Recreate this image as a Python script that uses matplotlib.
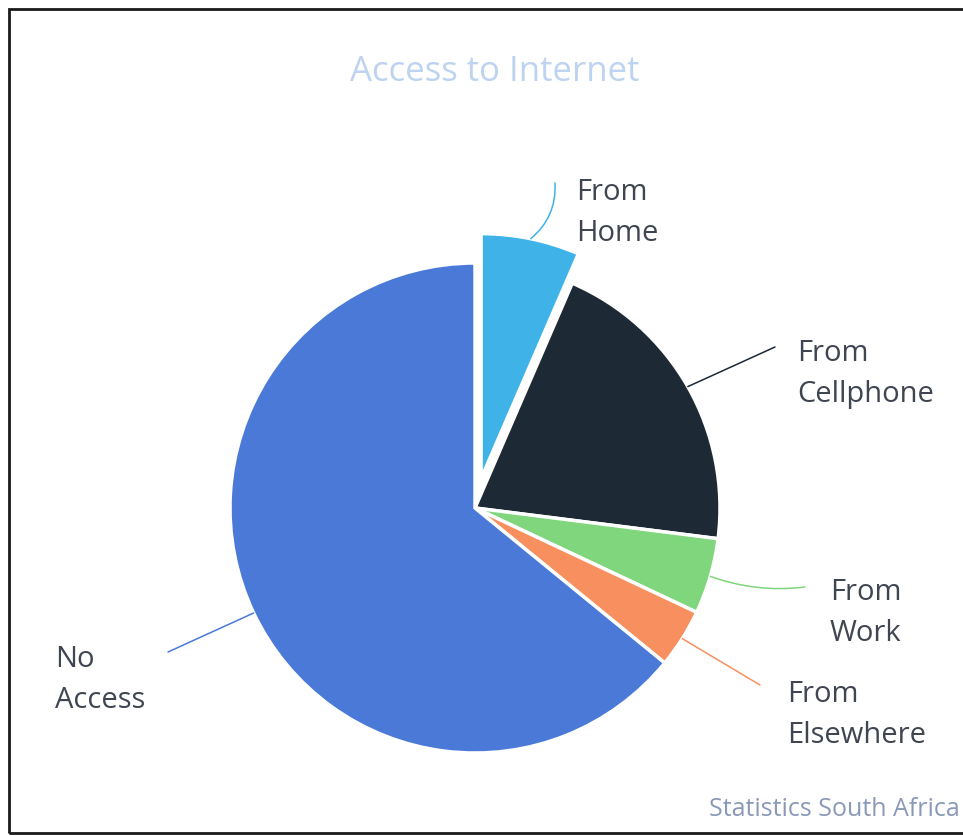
import numpy as np
import matplotlib
matplotlib.use('Agg')
import matplotlib.pyplot as plt
from matplotlib.patches import Rectangle

plt.rcParams['font.family'] = ['Open Sans', 'DejaVu Sans']

# Share of households by type of internet access (%)
categories = ["From\nHome", "From\nCellphone", "From\nWork", "From\nElsewhere", "No\nAccess"]
shares = [6.5, 20.5, 5.0, 3.9, 64.1]
colors = ["#3fb3e8", "#1d2935", "#7fd67c", "#f7905e", "#4a79d8"]

W, H = 963, 837
fig = plt.figure(figsize=(W / 100, H / 100), dpi=100)
ax = fig.add_axes([0, 0, 1, 1])

# work in pixel units, y measured from the bottom
cx, cy, R = 475, H - 509, 245
explode = [30, 0, 0, 0, 0]

wedges, _ = ax.pie(shares, colors=colors, startangle=90, counterclock=False,
                   center=(cx, cy), radius=R, explode=explode,
                   wedgeprops=dict(edgecolor="white", linewidth=2.5))
ax.set_xlim(0, W)
ax.set_ylim(0, H)
ax.set_aspect('equal')
ax.axis('off')

# label anchors (left edge, vertical centre) and leader end points
label_pos = [(576, 213), (797, 374), (830, 613), (787, 715), (55, 680)]
line_end = [(555, 184), (775, 348), (805, 588), (760, 686), (168, 653)]
curve = [-0.25, 0.0, -0.12, 0.0, 0.0]

for w, lab, (lx, ly), (ex, ey), rad, col in zip(wedges, categories, label_pos,
                                                 line_end, curve, colors):
    mid = np.deg2rad((w.theta1 + w.theta2) / 2)
    wx, wy = w.center
    sx = wx + R * np.cos(mid)
    sy = wy + R * np.sin(mid)
    ax.annotate("", xy=(sx, sy), xytext=(ex, H - ey),
                arrowprops=dict(arrowstyle='-', color=col, lw=1.1,
                                shrinkA=0, shrinkB=0,
                                connectionstyle=f"arc3,rad={rad}"))
    ax.text(lx, H - ly, lab, ha='left', va='center', fontsize=21,
            color="#3f4551", linespacing=1.55)

ax.text(495, H - 72, "Access to Internet", ha='center', va='center',
        fontsize=25, color="#bdd3f0")
ax.text(960, H - 810, "Statistics South Africa", ha='right', va='center',
        fontsize=18, color="#8a99b8")

# outer frame (right side runs off the canvas)
ax.add_patch(Rectangle((9, H - 834), 1000, 824, fill=False,
                       edgecolor="#1a1a1a", linewidth=2, clip_on=False))

fig.savefig("out.png", dpi=100)
